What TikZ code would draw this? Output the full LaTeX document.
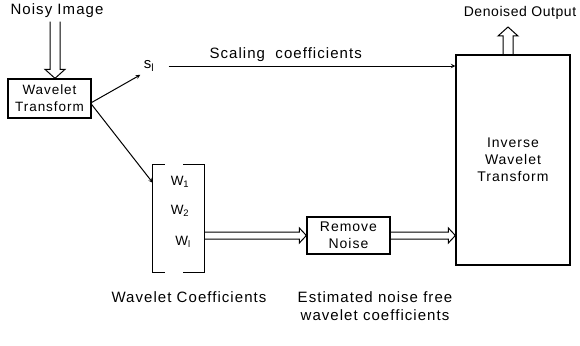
\documentclass[tikz,border=0pt]{standalone}
\usepackage{fontspec}
\setmainfont{Liberation Sans}[LetterSpace=7]
\usetikzlibrary{arrows,calc}

\tikzset{
  lbl/.style={align=center,font=\fontsize{15}{17.5}\selectfont},
  box/.style={draw,line width=1.3pt,align=center,inner sep=0pt,font=\fontsize{14}{17}\selectfont},
  hollow/.style n args={3}{line width=1pt,to path={let \p1=(\tikztostart), \p2=(\tikztotarget),
      \n1={atan2(\y2-\y1,\x2-\x1)}, \n2={veclen(\x2-\x1,\y2-\y1)} in
      {[shift={(\p1)},rotate=\n1] (0pt,#1) -- (\n2-#3,#1) -- (\n2-#3,#2) -- (\n2,0pt)
       -- (\n2-#3,-#2) -- (\n2-#3,-#1) -- (0pt,-#1)}}},
}

\begin{document}
\begin{tikzpicture}[x=1pt,y=-1pt,>=stealth]
  \useasboundingbox (0,0) rectangle (580,345);
  \node[lbl] (noisy) at (57,11) {Noisy Image};
  \node[box,minimum width=83pt,minimum height=39pt,font=\fontsize{13.5}{17}\selectfont] (wt) at (49.5,98.5) {Wavelet\\Transform};
  \node[lbl] (sl) at (149,66) {s\textsubscript{l}};
  \node[box,minimum width=114pt,minimum height=210pt] (iwt) at (513,160) {Inverse\\Wavelet\\Transform};
  \node[minimum width=51pt,minimum height=107pt,inner sep=0pt] (wc) at (178.5,218.5) {};
  \node[lbl,font=\fontsize{13.5}{15}\selectfont] (w1) at (180,182) {W\textsubscript{1}};
  \node[lbl,font=\fontsize{13.5}{15}\selectfont] (w2) at (180,211) {W\textsubscript{2}};
  \node[lbl,font=\fontsize{13.5}{15}\selectfont] (wl) at (183,242) {W\textsubscript{l}};
  \node[box,minimum width=83pt,minimum height=37pt] (rn) at (348.5,235.5) {Remove\\Noise};
  \node[lbl] (wclbl) at (189,297) {Wavelet Coefficients};
  \node[lbl] (estlbl) at (375,306) {Estimated noise free\\wavelet coefficients};
  \node[lbl,font=\fontsize{14}{16}\selectfont\addfontfeature{LetterSpace=4}] (den) at (520,13) {Denoised Output};
  \coordinate (out) at (508,27);

  \draw[hollow={5pt}{10pt}{9pt}] ([xshift=-2pt]noisy.south) to ([xshift=5.5pt]wt.north);
  \draw[->,line width=1pt] ([yshift=-4pt]wt.east) -- (sl.south west);
  \draw[->,line width=1pt] ([yshift=-6pt]wt.east) -- ([yshift=-18pt]wc.north west);
  \draw[->,line width=1pt,shorten <=11pt] (sl) -- (sl -| iwt.west)
    node[lbl,pos=0.43,above=1pt] {Scaling\ \ coefficients};
  \draw[line width=1.3pt] ([xshift=12pt]wc.north west) -- (wc.north west) -- (wc.south west) -- ([xshift=12pt]wc.south west);
  \draw[line width=1.3pt] ([xshift=-21pt]wc.north east) -- (wc.north east) -- (wc.south east) -- ([xshift=-21pt]wc.south east);
  \draw[hollow={3.5pt}{7.5pt}{7pt}] (wc.east |- rn.west) to (rn.west);
  \draw[hollow={3.5pt}{7.5pt}{7pt}] (rn.east) to (rn.east -| iwt.west);
  \draw[hollow={5pt}{10pt}{9pt}] ([xshift=-5pt]iwt.north) to (out);
\end{tikzpicture}
\end{document}
